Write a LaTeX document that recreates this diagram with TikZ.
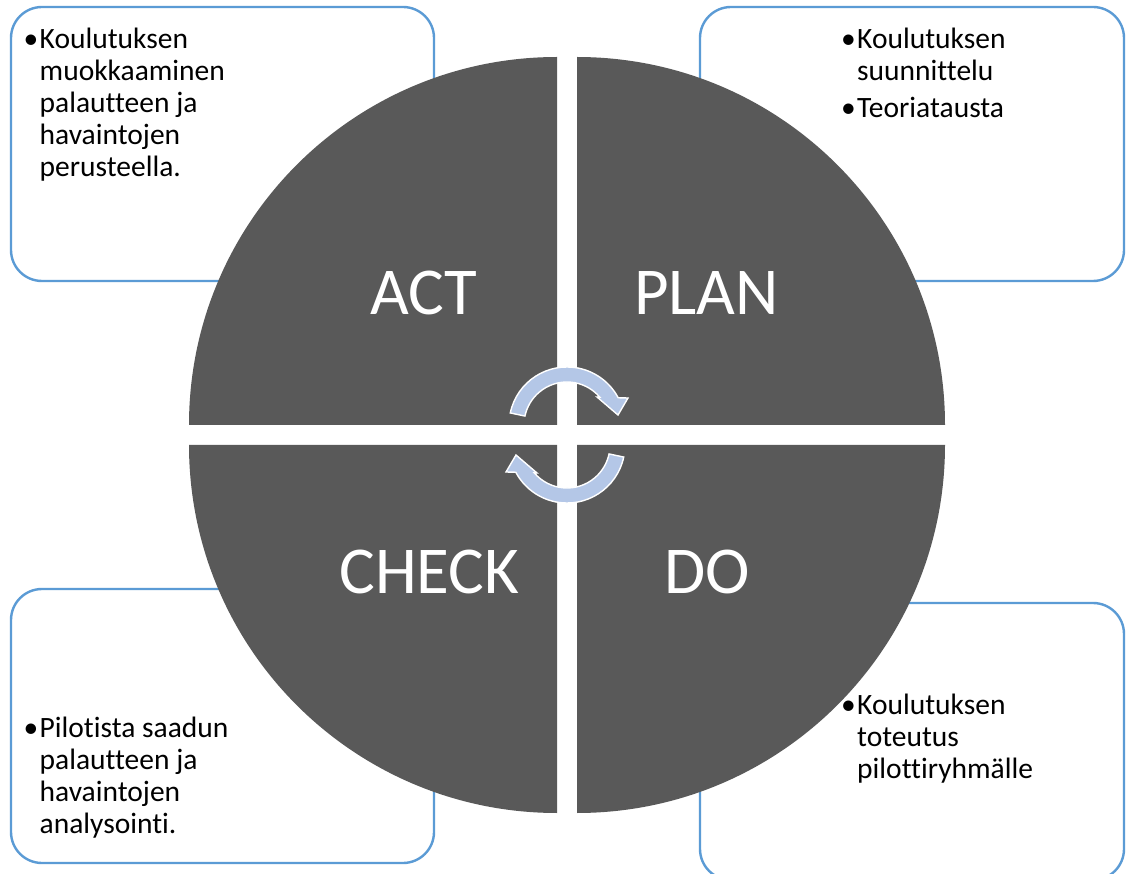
\documentclass[tikz,border=0pt]{standalone}
\usepackage{fontspec}
\setmainfont{Carlito}[Ligatures={NoCommon}]
\definecolor{quad}{HTML}{595959}
\definecolor{boxline}{HTML}{5B9BD5}
\definecolor{arrowfill}{HTML}{B4C7E7}

% one curved arrow of the cycle, drawn around the origin
\newcommand\cyclearrowpath{%
  (168:58) arc[start angle=168, end angle=28, radius=58]
  -- (61,27) -- (51,10) -- (30,28)
  -- (40.5:43) arc[start angle=40.5, end angle=168, radius=43] -- cycle}
% bullet hanging to the left of a line
\newcommand\notebullet{\llap{•\hspace{1.5pt}}}

\tikzset{
  notebox/.style={draw=boxline, line width=2.4pt, fill=white, rounded corners=31pt},
  quarter/.style={fill=quad},
  phase/.style={text=white, font=\fontsize{67}{80}\selectfont, inner sep=0pt, anchor=base},
  notetext/.style={text=black, font=\fontsize{29.5}{32}\selectfont, inner sep=0pt, anchor=base west},
  cyclearrow/.style={fill=arrowfill, draw=white, line width=1.4pt, line join=miter}
}

\begin{document}
\begin{tikzpicture}[x=1pt, y=1pt]
  \clip (0,0) rectangle (1128,-874);
  \fill[white] (0,0) rectangle (1128,-874);

  % note boxes behind the circle
  \draw[notebox] (11,-7) rectangle (434,-281);
  \draw[notebox] (700,-7) rectangle (1124,-281);
  \draw[notebox] (11,-589) rectangle (434,-863);
  \draw[notebox] (700,-603) rectangle (1124,-880);

  \node[notetext] (acttext) at (39.5,-49) {\begin{tabular}[t]{@{}l@{}}%
    \notebullet Koulutuksen\\ muokkaaminen\\ palautteen ja\\ havaintojen\\ perusteella.\end{tabular}};
  \node[notetext] (plantext) at (857,-49) {\begin{tabular}[t]{@{}l@{}}%
    \notebullet Koulutuksen\\ suunnittelu\\[5pt] \notebullet Teoriatausta\end{tabular}};
  \node[notetext] (checktext) at (39.5,-737) {\begin{tabular}[t]{@{}l@{}}%
    \notebullet Pilotista saadun\\ palautteen ja\\ havaintojen\\ analysointi.\end{tabular}};
  \node[notetext] (dotext) at (857,-714) {\begin{tabular}[t]{@{}l@{}}%
    \notebullet Koulutuksen\\ toteutus\\ pilottiryhmälle\end{tabular}};

  % the four quarters of the cycle
  \fill[quarter] (557,-425) -- ++(0,368) arc[start angle=90, end angle=180, radius=368] -- cycle;
  \fill[quarter] (577,-425) -- ++(0,368) arc[start angle=90, end angle=0, radius=368] -- cycle;
  \fill[quarter] (557,-445) -- ++(0,-368) arc[start angle=270, end angle=180, radius=368] -- cycle;
  \fill[quarter] (577,-445) -- ++(0,-368) arc[start angle=270, end angle=360, radius=368] -- cycle;

  % curved arrows in the middle
  \begin{scope}[shift={(567,-425)}]
    \path[cyclearrow] \cyclearrowpath;
  \end{scope}
  \begin{scope}[shift={(567,-445)}, rotate=180]
    \path[cyclearrow] \cyclearrowpath;
  \end{scope}

  % phase names
  \node[phase] (act) at (424,-315) {ACT};
  \node[phase] (plan) at (706.5,-315) {PLAN};
  \node[phase] (check) at (429.5,-593) {CHECK};
  \node[phase] (do) at (707.5,-593) {DO};
\end{tikzpicture}
\end{document}
